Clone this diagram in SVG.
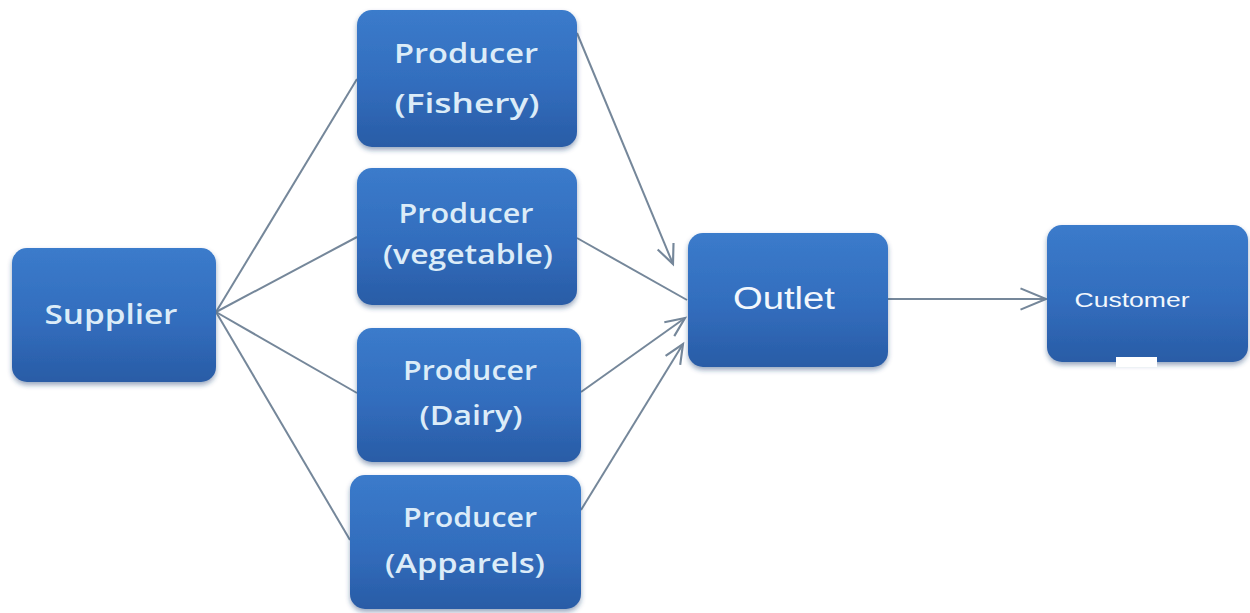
<svg xmlns="http://www.w3.org/2000/svg" width="1250" height="613" viewBox="0 0 1250 613">
  <defs>
    <linearGradient id="boxFill" x1="0" y1="0" x2="0" y2="1">
      <stop offset="0" stop-color="#3b7bcb"/>
      <stop offset="0.55" stop-color="#326dbd"/>
      <stop offset="1" stop-color="#295ca6"/>
    </linearGradient>
    <filter id="shadow" x="-10%" y="-10%" width="120%" height="130%">
      <feGaussianBlur in="SourceAlpha" stdDeviation="2.5"/>
      <feOffset dx="0" dy="3" result="b"/>
      <feFlood flood-color="#1d3f73" flood-opacity="0.45"/>
      <feComposite in2="b" operator="in"/>
      <feMerge>
        <feMergeNode/>
        <feMergeNode in="SourceGraphic"/>
      </feMerge>
    </filter>
    <marker id="arrow" markerUnits="userSpaceOnUse" markerWidth="30" markerHeight="30" viewBox="-24 -12 28 24" refX="0" refY="0" orient="auto">
      <path d="M-18,-8 L0,0 L-18,8" fill="none" stroke="#75879a" stroke-width="2"/>
    </marker>
    <marker id="arrowBig" markerUnits="userSpaceOnUse" markerWidth="34" markerHeight="34" viewBox="-28 -14 32 28" refX="0" refY="0" orient="auto">
      <path d="M-24,-10 L0,0 L-24,10" fill="none" stroke="#75879a" stroke-width="2"/>
    </marker>
    <style>
      .box { fill: url(#boxFill); filter: url(#shadow); }
      .lbl { font-family: "Open Sans", "Lato", sans-serif; font-size: 27px; font-weight: 600; fill: #dcecf8; text-anchor: middle; }
      .lbl2 { font-family: "Liberation Sans", Arial, sans-serif; fill: #f2f7fc; text-anchor: middle; }
      .conn { stroke: #75879a; stroke-width: 2; fill: none; }
    </style>
  </defs>

  <rect width="1250" height="613" fill="#ffffff"/>

  <!-- connectors -->
  <g id="connectors">
    <line class="conn" x1="216" y1="312" x2="357" y2="79"/>
    <line class="conn" x1="216" y1="312" x2="357" y2="237"/>
    <line class="conn" x1="216" y1="312" x2="357" y2="393"/>
    <line class="conn" x1="216" y1="312" x2="350" y2="540"/>
    <line class="conn" x1="577" y1="33" x2="673" y2="264" marker-end="url(#arrow)"/>
    <line class="conn" x1="577" y1="238" x2="687" y2="300"/>
    <line class="conn" x1="581" y1="392" x2="685" y2="318" marker-end="url(#arrow)"/>
    <line class="conn" x1="581" y1="510" x2="683" y2="344" marker-end="url(#arrow)"/>
    <line class="conn" x1="888" y1="299" x2="1046" y2="299" marker-end="url(#arrowBig)"/>
  </g>

  <!-- nodes -->
  <g id="supplier">
    <rect class="box" x="12" y="248" width="204" height="134" rx="15"/>
    <text class="lbl" x="111" y="324" textLength="133" lengthAdjust="spacingAndGlyphs">Supplier</text>
  </g>

  <g id="producer-fishery">
    <rect class="box" x="357" y="10" width="220" height="137" rx="15"/>
    <text class="lbl" x="466" y="63" textLength="144" lengthAdjust="spacingAndGlyphs">Producer</text>
    <text class="lbl" x="467" y="113" textLength="145" lengthAdjust="spacingAndGlyphs">(Fishery)</text>
  </g>

  <g id="producer-vegetable">
    <rect class="box" x="357" y="168" width="220" height="137" rx="15"/>
    <text class="lbl" x="466" y="223" textLength="135" lengthAdjust="spacingAndGlyphs">Producer</text>
    <text class="lbl" x="468" y="264" textLength="170" lengthAdjust="spacingAndGlyphs">(vegetable)</text>
  </g>

  <g id="producer-dairy">
    <rect class="box" x="357" y="328" width="224" height="134" rx="15"/>
    <text class="lbl" x="470" y="380" textLength="134" lengthAdjust="spacingAndGlyphs">Producer</text>
    <text class="lbl" x="471" y="425" textLength="103" lengthAdjust="spacingAndGlyphs">(Dairy)</text>
  </g>

  <g id="producer-apparels">
    <rect class="box" x="350" y="475" width="231" height="134" rx="15"/>
    <text class="lbl" x="470" y="527" textLength="134" lengthAdjust="spacingAndGlyphs">Producer</text>
    <text class="lbl" x="465" y="573" textLength="160" lengthAdjust="spacingAndGlyphs">(Apparels)</text>
  </g>

  <g id="outlet">
    <rect class="box" x="688" y="233" width="200" height="134" rx="15"/>
    <text class="lbl2" x="784" y="309" font-size="31" textLength="102" lengthAdjust="spacingAndGlyphs">Outlet</text>
  </g>

  <g id="customer">
    <rect class="box" x="1047" y="225" width="201" height="137" rx="15"/>
    <text class="lbl2" x="1132" y="307" font-size="21" textLength="115" lengthAdjust="spacingAndGlyphs">Customer</text>
    <rect x="1116" y="357" width="41" height="10" fill="#ffffff"/>
  </g>
</svg>
